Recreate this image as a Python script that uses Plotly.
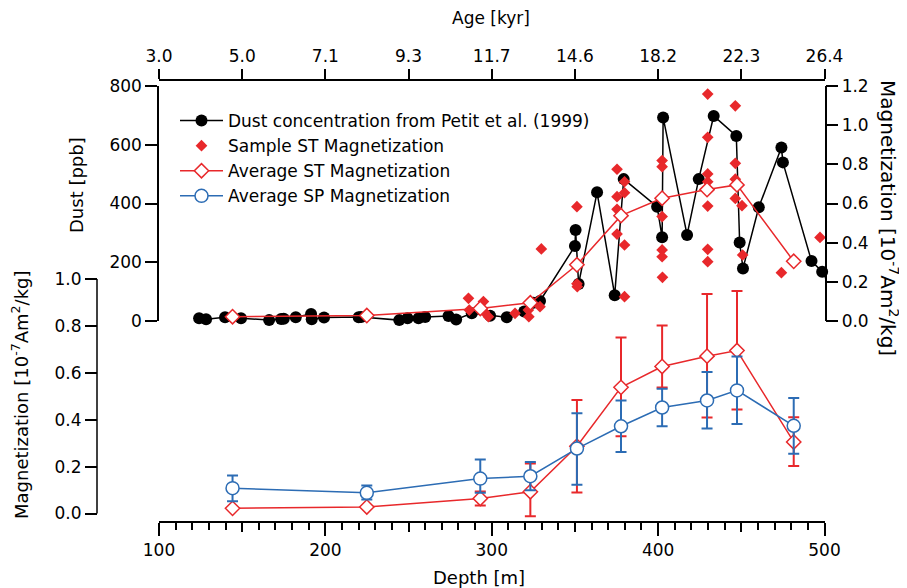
import plotly.graph_objects as go

W, H = 907, 588
OFF = 8  # page body margin that shifts the whole figure

# dust record (Petit et al. 1999), depth [m] and dust [ppb]
dust_depth = [124.1, 128.3, 139.7, 149.3, 166.2, 173.4, 175.0, 182.2, 191.4, 191.8,
              199.2, 220.0, 221.5, 244.4, 249.4, 256.0, 260.0, 274.0, 278.6, 288.0,
              299.0, 309.0, 319.5, 325.0, 329.0, 350.0, 350.4, 352.2, 363.3, 373.9,
              379.3, 399.4, 402.4, 403.0, 417.4, 424.4, 433.4, 447.0, 449.0, 451.0,
              460.5, 474.1, 475.0, 492.2, 498.6, 500.6]
dust_ppb = [9, 6, 13, 9, 3, 7, 8, 13, 24, 6,
            12, 13, 14, 3, 9, 9, 14, 17, 5, 26,
            18, 13, 32, 62, 68, 255, 310, 126, 438, 88,
            483, 389, 285, 693, 293, 483, 698, 630, 267, 179,
            387, 591, 540, 204, 168, 145]

# individual samples, ST magnetization [1e-7 Am2/kg]
sample_depth = [286.0, 286.5, 295.0, 295.5, 298.0, 314.0, 322.0, 322.3, 329.0, 329.8,
                351.2, 351.2, 351.4, 375.3, 375.3, 375.3, 375.3, 379.8, 379.8, 379.8,
                379.8, 402.4, 402.4, 402.4, 402.4, 402.4, 402.6, 429.8, 429.8, 429.8,
                429.8, 429.8, 429.8, 429.8, 446.4, 446.4, 446.4, 446.4, 450.4, 450.8,
                474.1, 497.3]
sample_st = [0.116, 0.056, 0.099, 0.047, 0.022, 0.039, 0.056, 0.022, 0.073, 0.368,
             0.584, 0.19, 0.175, 0.775, 0.635, 0.57, 0.444, 0.711, 0.655, 0.388,
             0.124, 0.819, 0.788, 0.533, 0.363, 0.328, 0.223, 1.159, 0.938, 0.751,
             0.711, 0.587, 0.366, 0.303, 1.099, 0.805, 0.724, 0.626, 0.589, 0.337,
             0.247, 0.427]

# averages
avg_depth = [144.2, 224.9, 293.1, 323.2, 351.2, 377.7, 402.4, 429.4, 447.4, 481.5]
avg_st = [0.022, 0.028, 0.064, 0.093, 0.287, 0.538, 0.627, 0.671, 0.695, 0.305]
avg_st_plus = [None, None, 0.03, 0.12, 0.197, 0.212, 0.175, 0.265, 0.254, 0.105]
avg_st_minus = [None, None, 0.03, 0.105, 0.197, 0.209, 0.09, 0.262, 0.252, 0.102]
avg_sp = [0.108, 0.088, 0.149, 0.159, 0.277, 0.372, 0.452, 0.482, 0.525, 0.374]
avg_sp_plus = [0.054, 0.031, 0.081, 0.061, 0.151, 0.11, 0.08, 0.121, 0.144, 0.118]
avg_sp_minus = [0.056, 0.028, 0.06, 0.06, 0.154, 0.11, 0.08, 0.12, 0.143, 0.119]

age_ticks = [100, 150, 200, 250, 300, 350, 400, 450, 500]
age_labels = ['3.0', '5.0', '7.1', '9.3', '11.7', '14.6', '18.2', '22.3', '26.4']

RED = '#e8282b'
BLUE = '#2c6cb4'
FONT = 'DejaVu Sans'


def px(x):
    return (x - OFF) / W


def py(y):
    return 1 - (y - OFF) / H


fig = go.Figure()

# upper panel: dust on y2, magnetization on y3
fig.add_trace(go.Scatter(
    x=dust_depth, y=dust_ppb, xaxis='x', yaxis='y2', mode='lines+markers',
    name='Dust concentration from Petit et al. (1999)',
    line=dict(color='black', width=1.5),
    marker=dict(symbol='circle', size=12, color='black'), cliponaxis=False))
fig.add_trace(go.Scatter(
    x=sample_depth, y=sample_st, xaxis='x', yaxis='y3', mode='markers',
    name='Sample ST Magnetization',
    marker=dict(symbol='diamond', size=9, color=RED), cliponaxis=False))
fig.add_trace(go.Scatter(
    x=avg_depth, y=avg_st, xaxis='x', yaxis='y3', mode='lines+markers',
    name='Average ST Magnetization',
    line=dict(color=RED, width=1.5),
    marker=dict(symbol='diamond', size=11, color='white', line=dict(color=RED, width=1.5)),
    cliponaxis=False))

# lower panel
fig.add_trace(go.Scatter(
    x=avg_depth, y=avg_st, xaxis='x', yaxis='y', mode='lines+markers',
    showlegend=False,
    line=dict(color=RED, width=1.5),
    marker=dict(symbol='diamond', size=11, color='white', line=dict(color=RED, width=1.5)),
    error_y=dict(type='data', array=avg_st_plus, arrayminus=avg_st_minus,
                 color=RED, thickness=2, width=5.5),
    cliponaxis=False))
fig.add_trace(go.Scatter(
    x=avg_depth, y=avg_sp, xaxis='x', yaxis='y', mode='lines+markers',
    name='Average SP Magnetization',
    line=dict(color=BLUE, width=1.5),
    marker=dict(symbol='circle', size=13, color='white', line=dict(color=BLUE, width=1.5)),
    error_y=dict(type='data', array=avg_sp_plus, arrayminus=avg_sp_minus,
                 color=BLUE, thickness=2, width=5.5),
    cliponaxis=False))

# empty traces so the age axis and the 50 m ticks get drawn
fig.add_trace(go.Scatter(x=[None], y=[None], xaxis='x2', yaxis='y2',
                         showlegend=False, hoverinfo='skip'))
fig.add_trace(go.Scatter(x=[None], y=[None], xaxis='x3', yaxis='y',
                         showlegend=False, hoverinfo='skip'))

axis_common = dict(showgrid=False, zeroline=False, linecolor='black', linewidth=1.5,
                   tickcolor='black', tickwidth=1.5, ticks='outside', automargin=False)
x_domain = [px(159), px(824.5)]

fig.update_layout(
    width=W, height=H,
    margin=dict(l=0, r=0, t=0, b=0, autoexpand=False),
    paper_bgcolor='white', plot_bgcolor='rgba(0,0,0,0)',
    font=dict(family=FONT, size=17, color='black'),
    xaxis=dict(domain=x_domain, range=[100, 500], anchor='y',
               showline=True, ticklen=13, tick0=100, dtick=100,
               minor=dict(dtick=10, ticklen=7, tickwidth=1.5, tickcolor='black', ticks='outside'),
               **axis_common),
    xaxis3=dict(overlaying='x', anchor='y', side='bottom', range=[100, 500],
                tickvals=[150, 250, 350, 450], ticklen=10, showticklabels=False,
                showline=False, **axis_common),
    xaxis2=dict(domain=x_domain, anchor='free', position=py(80), side='top',
                range=[100, 500], tickvals=age_ticks, ticktext=age_labels,
                showline=True, ticklen=10, **axis_common),
    yaxis=dict(domain=[py(521), py(279)], range=[-0.032, 1.0], anchor='free',
               position=px(97), tickvals=[0, 0.2, 0.4, 0.6, 0.8, 1.0],
               tickformat='.1f', ticklen=12, showline=False, **axis_common),
    yaxis2=dict(domain=[py(321), py(86)], range=[0, 800], anchor='x',
                tickvals=[0, 200, 400, 600, 800], ticklen=12, showline=True,
                **axis_common),
    yaxis3=dict(overlaying='y2', side='right', anchor='x', range=[0, 1.2],
                tickvals=[0, 0.2, 0.4, 0.6, 0.8, 1.0, 1.2], tickformat='.1f',
                ticklen=12, showline=True, **axis_common),
    legend=dict(x=px(175), y=py(103), xanchor='left', yanchor='top',
                bgcolor='rgba(0,0,0,0)', font=dict(family=FONT, size=17),
                itemwidth=43, traceorder='normal'),
)

# lower y axis line stops at 0.0
fig.add_shape(type='line', xref='paper', yref='y', x0=px(97), x1=px(97), y0=0, y1=1.0,
              line=dict(color='black', width=1.5))

mag_title = 'Magnetization [10<sup>-7</sup>Am<sup>2</sup>/kg]'
titles = [
    ('Age [kyr]', 491, 18, 0, 17),
    ('Depth [m]', 479, 577, 0, 18),
    ('Dust [ppb]', 77, 185, -90, 18),
    (mag_title, 20, 395, -90, 18),
    (mag_title, 889, 218, 90, 20),
]
for text, tx, ty, angle, size in titles:
    fig.add_annotation(text=text, xref='paper', yref='paper', x=px(tx), y=py(ty),
                       xanchor='center', yanchor='middle', showarrow=False,
                       textangle=angle, font=dict(family=FONT, size=size, color='black'))

fig.write_html("out.html")
